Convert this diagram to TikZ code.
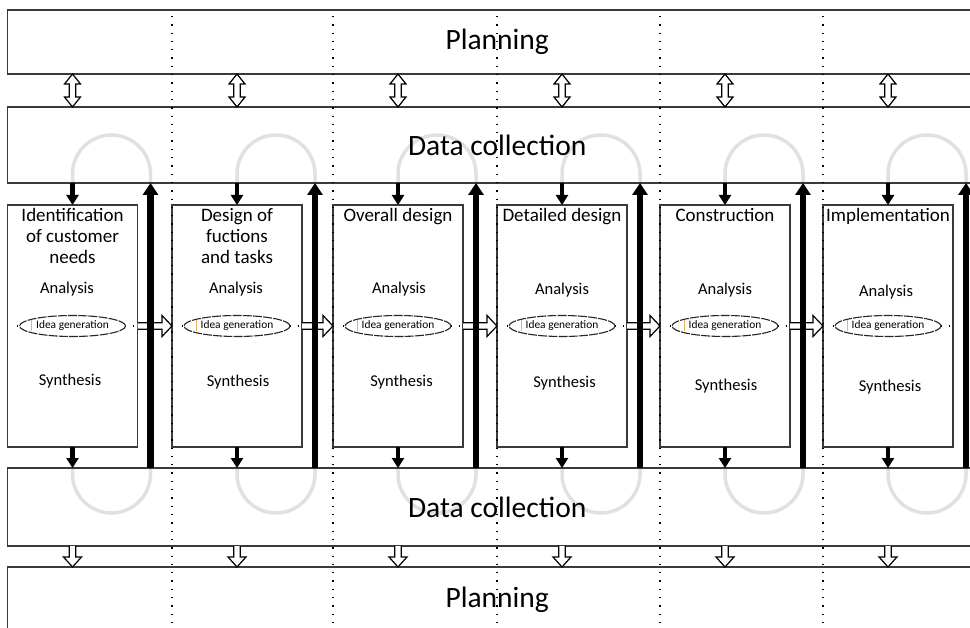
\documentclass[tikz,border=0pt]{standalone}
\usepackage{fontspec}
\setmainfont{Carlito}
\usetikzlibrary{arrows.meta,calc,shapes.geometric}

\definecolor{edgegrey}{HTML}{3A3A3A}
\definecolor{loopgrey}{HTML}{E1E1E1}
\definecolor{caret}{HTML}{F2B35E}

\tikzset{
  band/.style={draw=edgegrey, line width=1.3pt, minimum width=979.5pt, inner sep=0pt,
    outer sep=0pt, anchor=north west, font=\fontsize{29.5}{32}\selectfont},
  stage/.style={draw=edgegrey, line width=1.3pt, fill=white, minimum width=130pt,
    minimum height=242pt, inner sep=0pt, outer sep=0pt, anchor=north west},
  stagetitle/.style={anchor=north, align=center, inner sep=0pt, font=\fontsize{19}{21}\selectfont},
  phase/.style={anchor=base, inner sep=0pt, font=\fontsize{16.5}{18}\selectfont},
  idea/.style={ellipse, draw=black!85, line width=1.1pt, dash pattern=on 9pt off 1.2pt,
    fill=white, minimum width=106pt, minimum height=21pt, inner sep=0pt,
    font=\fontsize{11.4}{12}\selectfont},
  loopline/.style={draw=loopgrey, line width=3.5pt, rounded corners=39pt},
  dotline/.style={line width=1.3pt, dash pattern=on 1.3pt off 7pt},
  hollow/.style={draw=black, line width=1.2pt, fill=white, line join=miter},
  feed/.style={line width=4.5pt, -{Triangle[width=12pt,length=10pt]}},
  feedback/.style={line width=6.5pt, -{Triangle[width=15pt,length=12pt]}},
}

\begin{document}
\begin{tikzpicture}[x=1pt,y=-1pt]
\useasboundingbox (0,0) rectangle (970,628);
\clip (0,0) rectangle (970,628);

% grey feedback loops, lying behind the bands' text and the stages
\foreach \lx in {7.5,172,333,497,660,823}
  \draw[loopline] (\lx+65,135) rectangle (\lx+143,513);

% horizontal bands
\node[band, minimum height=64pt] (planT) at (7.5,10) {Planning};
\node[band, minimum height=76pt] (dcT) at (7.5,107) {Data collection};
\node[band, minimum height=78pt] (dcB) at (7.5,468) {Data collection};
\node[band, minimum height=66pt] (planB) at (7.5,567) {Planning};

% stage boxes with their titles
\foreach \i/\lx/\title in {
  1/7.5/{\strut Identification\\\strut of customer\\\strut needs},
  2/172/{\strut Design of\\\strut fuctions\\\strut and tasks},
  3/333/{\strut Overall design},
  4/497/{\strut Detailed design},
  5/660/{\strut Construction},
  6/823/{\strut Implementation}}{
  \node[stage] (c\i) at (\lx,205) {};
  \node[stagetitle] (t\i) at ($(c\i.north)+(0,1.3)$) {\title};
}

% analysis / synthesis labels
\foreach \i/\adx/\ay/\sdx/\sy in {1/-5.5/89/-2.5/181, 2/-1/89/1/182, 3/1/89/3.5/182,
                                 4/0/90/2.5/183, 5/0/90/1/186, 6/-2/92/2/187}{
  \node[phase] (a\i) at ($(c\i.north)+(\adx,\ay)$) {Analysis};
  \node[phase] (s\i) at ($(c\i.north)+(\sdx,\sy)$) {Synthesis};
}

% idea generation ellipses on a dotted axis
\foreach \i in {1,...,6}{
  \draw[dotline] ($(c\i.west)+(9.5,0)$) -- ($(c\i.east)+(-4,0)$);
  \node[idea] (e\i) at (c\i.center) {Idea generation};
  \draw[caret, line width=0.8pt] ($(e\i.center)+(-41,-5.5)$) -- ++(0,11);
}

% dotted column separators
\foreach \i in {2,...,6}
  \draw[dotline] (c\i.north west |- 0,16) -- (c\i.north west |- 0,628);

% hollow arrows from stage to stage
\foreach \i in {1,...,5}{
  \pgfmathtruncatemacro{\j}{\i+1}
  \draw[hollow] ($(c\i.east)+(0,-3.3)$) -- ($(c\j.west)+(-10,-3.3)$)
    -- ($(c\j.west)+(-10,-10.5)$) -- (c\j.west) -- ($(c\j.west)+(-10,10.5)$)
    -- ($(c\j.west)+(-10,3.3)$) -- ($(c\i.east)+(0,3.3)$);
}

% thick feedback arrows up to the data collection band
\foreach \i in {1,...,6}{
  \coordinate (r\i) at ($(c\i.north west)+(143,0)$);
  \draw[feedback] (r\i |- dcB.north) -- (r\i |- dcT.south);
}

% data flowing into and out of each stage
\foreach \i in {1,...,6}{
  \draw[feed] (c\i.north |- dcT.south) -- (c\i.north);
  \draw[feed] (c\i.south) -- (c\i.south |- dcB.north);
}

% two-way hollow arrows between planning and data collection
\foreach \i in {1,...,6}{
  \coordinate (u\i) at (c\i.north |- planT.south);
  \coordinate (v\i) at (c\i.north |- dcT.north);
  \draw[hollow] (u\i) -- ++(8,10) -- ++(-4.7,0) -- ($(v\i)+(3.3,-10)$) -- ++(4.7,0)
    -- (v\i) -- ++(-8,-10) -- ++(4.7,0) -- ($(u\i)+(-3.3,10)$) -- ++(-4.7,0) -- cycle;
}

% hollow arrows down to the lower planning band
\foreach \i in {1,...,6}{
  \coordinate (p\i) at (c\i.south |- dcB.south);
  \coordinate (q\i) at (c\i.south |- planB.north);
  \draw[hollow] ($(p\i)+(-3.3,0)$) -- ($(q\i)+(-3.3,-10)$) -- ++(-5.7,0) -- (q\i)
    -- ++(9,-10) -- ++(-5.7,0) -- ($(p\i)+(3.3,0)$);
}
\end{tikzpicture}
\end{document}
